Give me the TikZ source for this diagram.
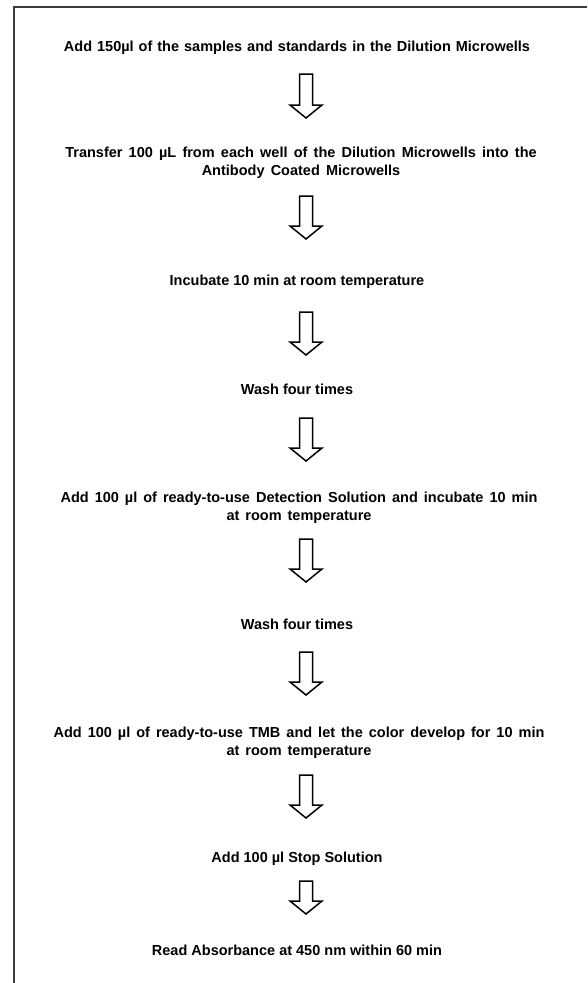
\documentclass[tikz,border=0pt]{standalone}
\usepackage{fontspec}
\setmainfont{Liberation Sans}
\usetikzlibrary{calc}
\definecolor{framegray}{HTML}{3C3C3C}
\tikzset{
  stepbox/.style={font=\bfseries\fontsize{14.5}{18}\selectfont, align=center, inner sep=0pt, text=black},
  widespace/.style={execute at begin node={\spaceskip=#1pt\relax}},
  blockarrowstyle/.style={draw=black, line width=1.5pt, fill=white, line join=miter},
  framestyle/.style={draw=framegray, line width=2pt}
}
\newcommand\blockarrow[2]{%
  \draw[blockarrowstyle] let \p1=(#1), \p2=(#2) in
    (\x1-6.5pt,\y1) -- (\x1+6.5pt,\y1) -- (\x1+6.5pt,\y2+13pt) -- (\x1+16pt,\y2+13pt)
    -- (\x1,\y2) -- (\x1-16pt,\y2+13pt) -- (\x1-6.5pt,\y2+13pt) -- cycle;}
\begin{document}
\begin{tikzpicture}[x=1pt,y=-1pt]
\useasboundingbox (0,0) rectangle (587,983);
\draw[framestyle] (14,983) -- (14,6.5) -- (587,6.5);

\node[stepbox, widespace=5.0] (t1) at (297,48) {Add 150µl of the samples and standards in the Dilution Microwells};
\node[stepbox, widespace=6.2] (t2) at (301,163) {Transfer 100 µL from each well of the Dilution Microwells into the\\Antibody Coated Microwells};
\node[stepbox] (t3) at (297,282) {Incubate 10 min at room temperature};
\node[stepbox] (t4) at (297,389) {Wash four times};
\node[stepbox, widespace=6.0] (t5) at (299,508) {Add 100 µl of ready-to-use Detection Solution and incubate 10 min\\at room temperature};
\node[stepbox] (t6) at (297,624) {Wash four times};
\node[stepbox, widespace=6.0] (t7) at (299,743) {Add 100 µl of ready-to-use TMB and let the color develop for 10 min\\at room temperature};
\node[stepbox] (t8) at (297,859) {Add 100 µl Stop Solution};
\node[stepbox] (t9) at (297,950) {Read Absorbance at 450 nm within 60 min};

\coordinate (a1s) at (306,74);  \coordinate (a1e) at (306,118);
\coordinate (a2s) at (306,196); \coordinate (a2e) at (306,239);
\coordinate (a3s) at (306,312); \coordinate (a3e) at (306,355);
\coordinate (a4s) at (306,418); \coordinate (a4e) at (306,461);
\coordinate (a5s) at (306,539); \coordinate (a5e) at (306,582);
\coordinate (a6s) at (306,652); \coordinate (a6e) at (306,695);
\coordinate (a7s) at (306,775); \coordinate (a7e) at (306,818);
\coordinate (a8s) at (306,881); \coordinate (a8e) at (306,914);

\blockarrow{a1s}{a1e}
\blockarrow{a2s}{a2e}
\blockarrow{a3s}{a3e}
\blockarrow{a4s}{a4e}
\blockarrow{a5s}{a5e}
\blockarrow{a6s}{a6e}
\blockarrow{a7s}{a7e}
\blockarrow{a8s}{a8e}
\end{tikzpicture}
\end{document}
